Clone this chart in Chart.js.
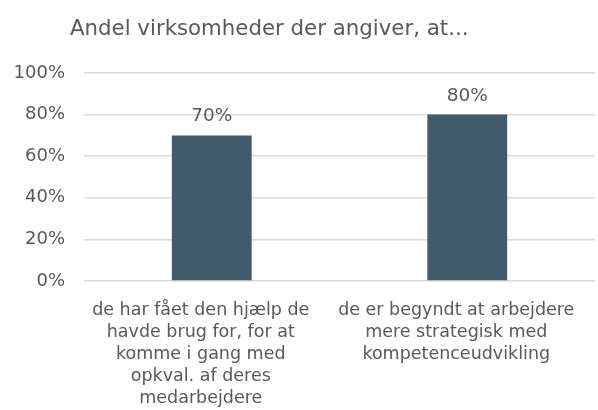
<!DOCTYPE html>
<html>
<head>
<meta charset="utf-8">
<script src="https://cdn.jsdelivr.net/npm/chart.js@4/dist/chart.umd.min.js"></script>
<style>
  html, body { margin: 0; padding: 0; background: #ffffff; }
  #wrap { width: 598px; height: 410px; position: relative; }
</style>
</head>
<body>
<div id="wrap"><canvas id="c"></canvas></div>
<script>
const chartTitle = "Andel virksomheder der angiver, at...";
const categories = [
  ["de har fået den hjælp de", "havde brug for, for at", "komme i gang med", "opkval. af deres", "medarbejdere"],
  ["de er begyndt at arbejdere", "mere strategisk med", "kompetenceudvikling"]
];
const values = [70, 80];
const yTicks = [0, 20, 40, 60, 80, 100];

const FONT = "'DejaVu Sans', Verdana, sans-serif";
const TEXT = "#595959";

const titlePlugin = {
  id: 'leftTitle',
  afterDraw(chart) {
    const ctx = chart.ctx;
    ctx.save();
    ctx.font = "21.3px " + FONT;
    ctx.fillStyle = TEXT;
    ctx.textAlign = 'left';
    ctx.textBaseline = 'alphabetic';
    ctx.fillText(chartTitle, 70, 35);
    ctx.restore();
  }
};

const dataLabels = {
  id: 'dataLabels',
  afterDatasetsDraw(chart) {
    const ctx = chart.ctx;
    const meta = chart.getDatasetMeta(0);
    ctx.save();
    ctx.font = "18.5px " + FONT;
    ctx.fillStyle = TEXT;
    ctx.textAlign = 'center';
    ctx.textBaseline = 'alphabetic';
    meta.data.forEach((bar, i) => {
      ctx.fillText(values[i] + '%', bar.x, bar.y - 14);
    });
    ctx.restore();
  }
};

new Chart(document.getElementById('c'), {
  type: 'bar',
  data: {
    labels: categories,
    datasets: [{
      data: values,
      backgroundColor: '#425A69',
      borderWidth: 0,
      barPercentage: 0.3125,
      categoryPercentage: 1.0
    }]
  },
  options: {
    responsive: true,
    maintainAspectRatio: false,
    animation: false,
    layout: { padding: { left: 0, right: 3, top: 73, bottom: 0 } },
    plugins: {
      legend: { display: false },
      title: { display: false },
      tooltip: { enabled: false }
    },
    scales: {
      x: {
        afterFit(axis) { axis.height = 129; axis.paddingLeft = 0; axis.paddingRight = 0; },
        grid: { display: false, drawTicks: false },
        border: { display: false },
        ticks: {
          color: TEXT,
          font: { family: FONT, size: 17.5, lineHeight: 1.26 },
          padding: 18,
          labelOffset: -11,
          maxRotation: 0,
          autoSkip: false
        }
      },
      y: {
        min: 0,
        max: 100,
        afterBuildTicks(axis) { axis.ticks = yTicks.map(v => ({ value: v })); },
        afterFit(axis) { axis.width = 84; },
        grid: { color: '#d9d9d9', lineWidth: 1.5, drawTicks: false },
        border: { display: false },
        ticks: {
          color: TEXT,
          font: { family: FONT, size: 18 },
          padding: 19,
          callback: v => v + '%'
        }
      }
    }
  },
  plugins: [titlePlugin, dataLabels]
});
</script>
</body>
</html>
